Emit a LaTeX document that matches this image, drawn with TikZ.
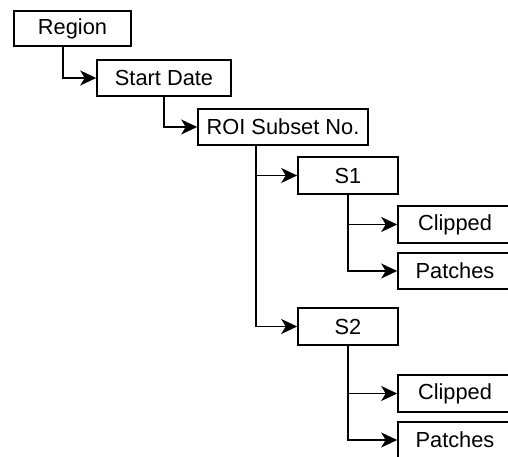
\documentclass[tikz,border=0pt]{standalone}
\usepackage{fontspec}
\setmainfont{Liberation Sans}
\usetikzlibrary{arrows.meta}
\begin{document}
\begin{tikzpicture}[x=1pt,y=-1pt,
  box/.style={draw,line width=1.6pt,fill=white,inner sep=0pt,font=\fontsize{21.8}{26}\selectfont},
  conn/.style={line width=1.6pt,-{Stealth[length=16pt,width=15pt,inset=4.5pt]}}]
\useasboundingbox (0,0) rectangle (508,457);
\clip (0,0) rectangle (508,457);
\node[box,minimum width=117pt,minimum height=35pt] (reg) at (72.5,28.5) {Region};
\node[box,minimum width=134pt,minimum height=36pt] (sd) at (164,78) {Start Date};
\node[box,minimum width=170pt,minimum height=36pt] (roi) at (283,127) {ROI Subset No.};
\node[box,minimum width=100pt,minimum height=37pt] (s1) at (348,175.5) {S1};
\node[box,minimum width=114pt,minimum height=37pt] (c1) at (455,224.5) {Clipped};
\node[box,minimum width=114pt,minimum height=36pt] (p1) at (455,271) {Patches};
\node[box,minimum width=100pt,minimum height=37pt] (s2) at (348,326.5) {S2};
\node[box,minimum width=114pt,minimum height=37pt] (c2) at (455,393.5) {Clipped};
\node[box,minimum width=114pt,minimum height=36pt] (p2) at (455,440) {Patches};
\draw[conn] ([xshift=50pt]reg.south west) |- (sd.west);
\draw[conn] (sd.south) |- (roi.west);
\draw[conn] ([xshift=59pt]roi.south west) |- (s1.west);
\draw[conn] ([xshift=59pt]roi.south west) |- (s2.west);
\draw[conn] (s1.south) |- (c1.west);
\draw[conn] (s1.south) |- (p1.west);
\draw[conn] (s2.south) |- (c2.west);
\draw[conn] (s2.south) |- (p2.west);
\end{tikzpicture}
\end{document}
